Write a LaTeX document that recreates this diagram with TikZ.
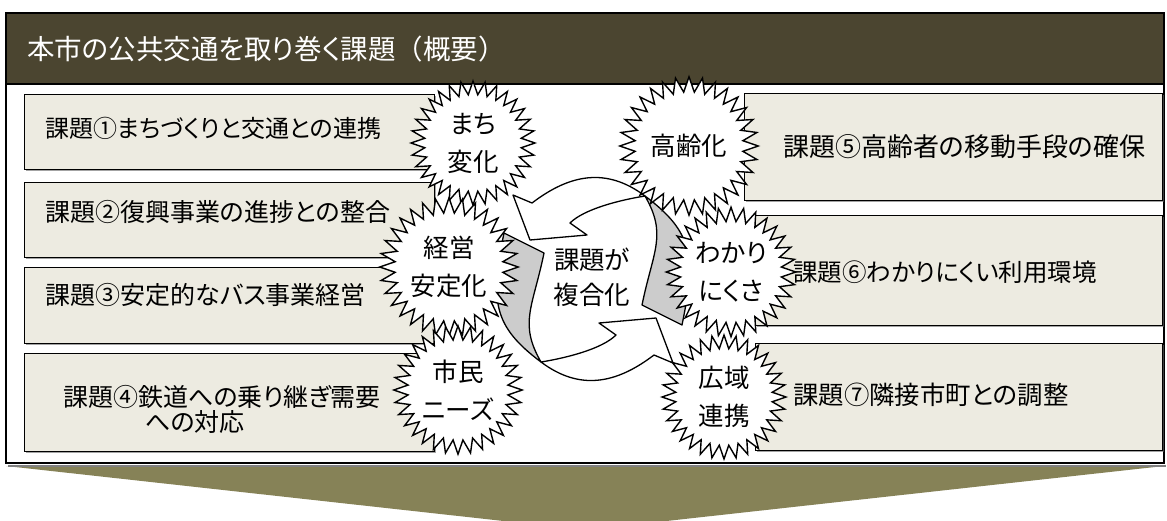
\documentclass[tikz,border=0pt]{standalone}
\usepackage{fontspec}
\setmainfont{Noto Sans CJK JP}[RawFeature=+palt]
\newfontfamily\jpfull{Noto Sans CJK JP}
\usetikzlibrary{shapes.geometric,shadows}
\definecolor{hdr}{RGB}{75,69,48}
\definecolor{chev}{RGB}{134,130,87}
\definecolor{boxfill}{RGB}{237,235,225}
\definecolor{twist}{RGB}{204,204,204}
\tikzset{
  issue/.style={draw=black, line width=1.4pt, fill=boxfill, rectangle, inner sep=0pt, anchor=north west,
    drop shadow={shadow xshift=1.5pt, shadow yshift=-1.5pt, fill=black!60, opacity=0.6}},
  burst/.style={star, star points=32, star point ratio=1.28, minimum size=124pt, inner sep=0pt,
    draw=black, line width=1.4pt, fill=white, align=center, font=\fontsize{25.5pt}{38pt}\selectfont},
  itext/.style={anchor=west, inner sep=0pt, font=\fontsize{25pt}{25pt}\selectfont},
  whitepart/.style={draw=black, line width=1.3pt, line join=round, fill=white},
  greypart/.style={draw=black, line width=1.3pt, line join=round, fill=twist},
}
\begin{document}
\begin{tikzpicture}[x=1pt,y=-1pt]
\useasboundingbox (0,0) rectangle (1167,520);
% chevron
\fill[chev] (6,466) -- (1164,466) -- (585,530) -- cycle;
% frame
\fill[black!50] (8,465) rectangle (1166,467);
\draw[line width=1.4pt, fill=white] (6,13) rectangle (1164,463);
\fill[hdr] (6,13) rectangle (1164,84);
\draw[line width=1.4pt] (6,13) rectangle (1164,463);
\draw[line width=1.4pt] (6,84) -- (1164,84);
\node[anchor=west, text=white, font=\fontsize{27.5pt}{30pt}\selectfont, inner sep=0pt] (title) at (27,49) {本市の公共交通を取り巻く課題{\jpfull （}概要{\jpfull ）}};
% issue boxes
\node[issue, minimum width=410pt, minimum height=75pt] (b1) at (24,94) {};
\node[issue, minimum width=410pt, minimum height=75pt] (b2) at (24,182) {};
\node[issue, minimum width=410pt, minimum height=76pt] (b3) at (24,267) {};
\node[issue, minimum width=410pt, minimum height=98pt] (b4) at (24,353) {};
\node[issue, minimum width=418pt, minimum height=107pt] (b5) at (744,93) {};
\node[issue, minimum width=407pt, minimum height=110pt] (b6) at (755,215) {};
\node[issue, minimum width=407pt, minimum height=107pt] (b7) at (755,343) {};
\node[itext, font=\fontsize{24pt}{25pt}\selectfont] (t1) at (45,128) {課題①まちづくりと交通との連携};
\node[itext] (t2) at (45,212) {課題②復興事業の進捗との整合};
\node[itext] (t3) at (45,295) {課題③安定的なバス事業経営};
\node[itext, align=left] (t4) at (63,409) {課題④鉄道への乗り継ぎ需要\\\hspace*{82pt}への対応};
\node[itext, font=\fontsize{26pt}{25pt}\selectfont] (t5) at (783,147) {課題⑤高齢者の移動手段の確保};
\node[itext, font=\fontsize{24.5pt}{25pt}\selectfont] (t6) at (793,272) {課題⑥わかりにくい利用環境};
\node[itext, font=\fontsize{25.4pt}{25pt}\selectfont] (t7) at (793,395) {課題⑦隣接市町との調整};
% circular arrows
\begin{scope}[rotate around={180:(593,279)}]
  \draw[whitepart] (532,203) -- (513,195) -- (530,240) -- (587,235) -- (570,223)
     .. controls (584,209) and (620,200) .. (645,196)
     .. controls (606.6,167.2) and (570.2,173.9) .. (532,203) -- cycle;
  \draw[greypart] (645,196) .. controls (693,232) and (696,256.4) .. (682,325)
     -- (642,305) .. controls (653,251) and (667.5,235) .. (645,196) -- cycle;
\end{scope}
\draw[whitepart] (532,203) -- (513,195) -- (530,240) -- (587,235) -- (570,223)
   .. controls (584,209) and (620,200) .. (645,196)
   .. controls (606.6,167.2) and (570.2,173.9) .. (532,203) -- cycle;
\draw[greypart] (645,196) .. controls (693,232) and (696,256.4) .. (682,325)
   -- (642,305) .. controls (653,251) and (667.5,235) .. (645,196) -- cycle;
\node[align=center, inner sep=0pt, font=\fontsize{25.5pt}{35pt}\selectfont] (core) at (592,277) {課題が\\複合化};
% starbursts
\node[burst] (s1) at (473,143) {まち\\変化};
\node[burst] (s2) at (689,146) {高齢化};
\node[burst] (s3) at (449,267) {経営\\安定化};
\node[burst] (s4) at (731,272) {わかり\\にくさ};
\node[burst] (s5) at (458,390) {市民\\ニーズ};
\node[burst] (s6) at (724,397) {広域\\連携};
\end{tikzpicture}
\end{document}
